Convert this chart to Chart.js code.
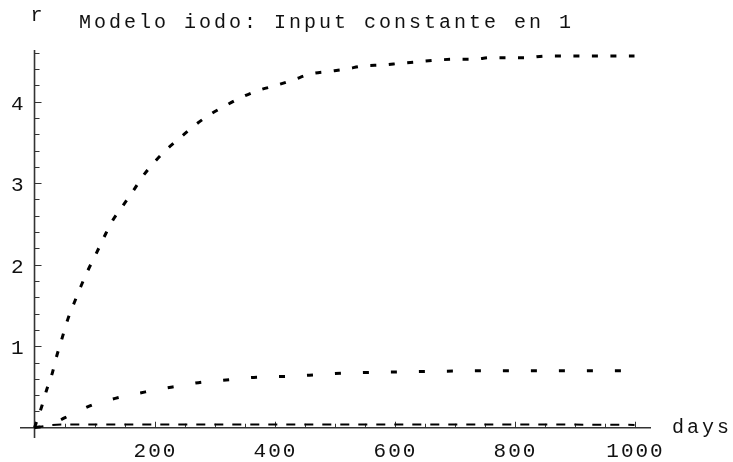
<!DOCTYPE html>
<html>
<head>
<meta charset="utf-8">
<script src="https://cdn.jsdelivr.net/npm/chart.js@4.4.1/dist/chart.umd.min.js"></script>
<style>
  html, body { margin: 0; padding: 0; background: #fff; }
  #wrap { width: 733px; height: 462px; position: relative; }
</style>
</head>
<body>
<div id="wrap"><canvas id="iodoChart"></canvas></div>
<script>
// upper curve
const daysTop = [0, 12, 20, 30, 37, 46, 55, 66, 77, 89, 103, 116, 130, 146, 164, 181, 200, 221, 243, 267, 292, 318, 344, 374, 403, 432, 460, 489, 519, 549, 580, 609, 640, 670, 700, 732, 760, 790, 822, 851, 882, 912, 942, 973, 1000];
const rTop = [0, 0.26, 0.46, 0.68, 0.88, 1.10, 1.32, 1.53, 1.73, 1.93, 2.14, 2.34, 2.54, 2.71, 2.90, 3.09, 3.26, 3.42, 3.56, 3.71, 3.84, 3.95, 4.05, 4.14, 4.20, 4.27, 4.34, 4.37, 4.40, 4.44, 4.45, 4.47, 4.49, 4.51, 4.52, 4.52, 4.54, 4.54, 4.54, 4.56, 4.56, 4.56, 4.56, 4.56, 4.56];

// middle curve
const daysMid = [0, 25, 50, 75, 100, 140, 185, 230, 280, 325, 370, 420, 470, 515, 565, 610, 700, 800, 900, 1000];
const rMid = [0, 0.03, 0.12, 0.21, 0.29, 0.37, 0.44, 0.50, 0.56, 0.59, 0.62, 0.63, 0.65, 0.67, 0.68, 0.685, 0.695, 0.70, 0.70, 0.70];

// lowest curve, almost flat
const daysLow = [0, 25, 50, 200, 400, 600, 800, 1000];
const rLow = [0, 0.03, 0.04, 0.04, 0.04, 0.04, 0.04, 0.035];

// ticks
const xTickLabels = [200, 400, 600, 800, 1000];
const yTickLabels = [1, 2, 3, 4];
const xMinorStep = 50;
const yMinorStep = 0.2;

const titleText = 'Modelo iodo: Input constante en 1';
const xAxisName = 'days';
const yAxisName = 'r';

function toPoints(xs, ys) {
    return xs.map((x, i) => ({ x: x, y: ys[i] }));
}

// draws Mathematica-like axes through the origin, ticks pointing inward
const mmaAxes = {
    id: 'mmaAxes',
    beforeDatasetsDraw(chart) {
        const ctx = chart.ctx;
        const xs = chart.scales.x, ys = chart.scales.y;
        const area = chart.chartArea;
        const x0 = xs.getPixelForValue(0);
        const y0 = ys.getPixelForValue(0);
        ctx.save();
        ctx.strokeStyle = '#333';
        ctx.lineWidth = 1.6;
        ctx.beginPath();
        ctx.moveTo(area.left, y0); ctx.lineTo(area.right, y0);
        ctx.moveTo(x0, area.top); ctx.lineTo(x0, area.bottom);
        ctx.stroke();

        ctx.lineWidth = 1;
        ctx.beginPath();
        for (let v = xMinorStep; v <= xs.max; v += xMinorStep) {
            const px = Math.round(xs.getPixelForValue(v)) + 0.5;
            const len = xTickLabels.includes(v) ? 6 : 4;
            ctx.moveTo(px, y0); ctx.lineTo(px, y0 - len);
        }
        for (let k = 1; k * yMinorStep <= ys.max; k++) {
            const v = +(k * yMinorStep).toFixed(2);
            const py = Math.round(ys.getPixelForValue(v)) + 0.5;
            const len = yTickLabels.includes(v) ? 7 : 5;
            ctx.moveTo(x0, py); ctx.lineTo(x0 + len, py);
        }
        ctx.stroke();
        ctx.restore();
    },
    afterDraw(chart) {
        const ctx = chart.ctx;
        const xs = chart.scales.x, ys = chart.scales.y;
        const area = chart.chartArea;
        const x0 = xs.getPixelForValue(0);
        const y0 = ys.getPixelForValue(0);
        ctx.save();
        ctx.fillStyle = '#111';
        ctx.textBaseline = 'alphabetic';

        ctx.font = '21px "Liberation Mono"';
        ctx.letterSpacing = '2px';
        ctx.textAlign = 'center';
        xTickLabels.forEach(v => {
            ctx.fillText(String(v), xs.getPixelForValue(v) + 1, y0 + 29);
        });
        ctx.textAlign = 'right';
        yTickLabels.forEach(v => {
            ctx.fillText(String(v), x0 - 9, ys.getPixelForValue(v) + 8);
        });

        ctx.font = '20px "Liberation Mono"';
        ctx.letterSpacing = '3px';
        ctx.textAlign = 'left';
        ctx.fillText(titleText, 79, 28);
        ctx.fillText(yAxisName, x0 - 4, 21);
        ctx.fillText(xAxisName, area.right + 21, y0 + 5);
        ctx.restore();
    }
};

const ctx = document.getElementById('iodoChart').getContext('2d');
new Chart(ctx, {
    type: 'line',
    data: {
        datasets: [
            {
                data: toPoints(daysTop, rTop),
                borderColor: '#000',
                borderWidth: 3,
                borderDash: [6, 12.5],
                pointRadius: 0,
                cubicInterpolationMode: 'monotone',
                fill: false
            },
            {
                data: toPoints(daysMid, rMid),
                borderColor: '#000',
                borderWidth: 3,
                borderDash: [6, 22],
                pointRadius: 0,
                cubicInterpolationMode: 'monotone',
                fill: false
            },
            {
                data: toPoints(daysLow, rLow),
                borderColor: '#000',
                borderWidth: 2,
                borderDash: [9, 9],
                pointRadius: 0,
                cubicInterpolationMode: 'monotone',
                fill: false
            }
        ]
    },
    options: {
        responsive: true,
        maintainAspectRatio: false,
        animation: false,
        events: [],
        layout: { padding: { left: 20, right: 82, top: 50, bottom: 24 } },
        scales: {
            x: { type: 'linear', min: -24.2, max: 1027.5, display: false },
            y: { type: 'linear', min: -0.126, max: 4.634, display: false }
        },
        plugins: {
            legend: { display: false },
            tooltip: { enabled: false }
        }
    },
    plugins: [mmaAxes]
});
</script>
</body>
</html>
